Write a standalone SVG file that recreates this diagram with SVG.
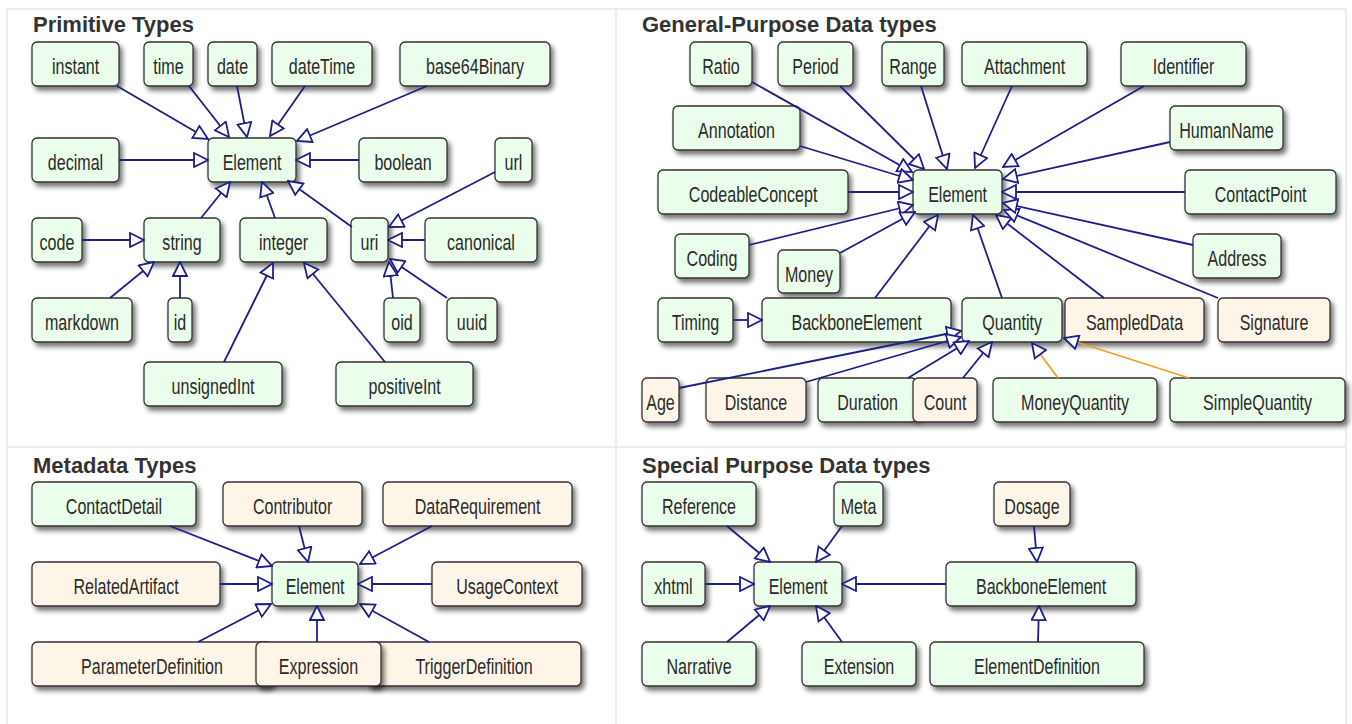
<svg xmlns="http://www.w3.org/2000/svg" width="1352" height="724" viewBox="0 0 1352 724">
<style>
.panel{fill:#fff;stroke:#ececec;stroke-width:2}
.title{font-family:"Liberation Sans",Arial,sans-serif;font-weight:bold;font-size:22px;fill:#333}
.g rect{fill:#ebfdeb;stroke:#333;stroke-width:1.3;filter:url(#sh)}
.o rect{fill:#fdf6e8;stroke:#333;stroke-width:1.3;filter:url(#sh)}
text.t{font-family:"Liberation Sans",Arial,sans-serif;font-size:22px;fill:#2b2b2b;text-anchor:middle;transform-box:fill-box;transform-origin:center;transform:scaleX(0.73)}
.c path{fill:none;stroke:#1e1e8a;stroke-width:1.8;marker-end:url(#tri)}
.c path.or{stroke:#f0a020}
</style>
<defs>
<filter id="sh" x="-20%" y="-30%" width="150%" height="180%">
<feDropShadow dx="3" dy="4" stdDeviation="2.5" flood-color="#000" flood-opacity="0.55"/>
</filter>
<marker id="tri" markerUnits="userSpaceOnUse" markerWidth="16" markerHeight="16" refX="14" refY="7" orient="auto" viewBox="-1 -1 16 16">
<path d="M0,0 L14,7 L0,14 Z" fill="#fff" stroke="#1e1e8a" stroke-width="1.8"/>
</marker>
</defs>
<rect x="0" y="0" width="1352" height="724" fill="#fff"/>
<rect class="panel" x="7" y="9" width="609" height="438"/>
<rect class="panel" x="616" y="9" width="730" height="438"/>
<rect class="panel" x="7" y="447" width="609" height="280"/>
<rect class="panel" x="616" y="447" width="730" height="280"/>
<text class="title" x="33" y="32">Primitive Types</text>
<text class="title" x="642" y="32">General-Purpose Data types</text>
<text class="title" x="33" y="473">Metadata Types</text>
<text class="title" x="642" y="473">Special Purpose Data types</text>

<!-- Primitive Types -->
<g id="p-instant" class="g"><rect x="32" y="42" width="87" height="44" rx="5"/><text class="t" x="75.5" y="74">instant</text></g>
<g id="p-time" class="g"><rect x="144" y="42" width="49" height="44" rx="5"/><text class="t" x="168.5" y="74">time</text></g>
<g id="p-date" class="g"><rect x="208" y="42" width="49" height="44" rx="5"/><text class="t" x="232.5" y="74">date</text></g>
<g id="p-dateTime" class="g"><rect x="272" y="42" width="100" height="44" rx="5"/><text class="t" x="322" y="74">dateTime</text></g>
<g id="p-base64Binary" class="g"><rect x="400" y="42" width="150" height="44" rx="5"/><text class="t" x="475" y="74">base64Binary</text></g>
<g id="p-decimal" class="g"><rect x="32" y="138" width="87" height="44" rx="5"/><text class="t" x="75.5" y="170">decimal</text></g>
<g id="p-Element" class="g"><rect x="208" y="138" width="88" height="44" rx="5"/><text class="t" x="252" y="170">Element</text></g>
<g id="p-boolean" class="g"><rect x="359" y="138" width="88" height="44" rx="5"/><text class="t" x="403" y="170">boolean</text></g>
<g id="p-url" class="g"><rect x="495" y="138" width="37" height="44" rx="5"/><text class="t" x="513.5" y="170">url</text></g>
<g id="p-code" class="g"><rect x="32" y="218" width="50" height="44" rx="5"/><text class="t" x="57" y="250">code</text></g>
<g id="p-string" class="g"><rect x="144" y="218" width="76" height="44" rx="5"/><text class="t" x="182" y="250">string</text></g>
<g id="p-integer" class="g"><rect x="240" y="218" width="87" height="44" rx="5"/><text class="t" x="283.5" y="250">integer</text></g>
<g id="p-uri" class="g"><rect x="351" y="218" width="37" height="44" rx="5"/><text class="t" x="369.5" y="250">uri</text></g>
<g id="p-canonical" class="g"><rect x="425" y="218" width="112" height="44" rx="5"/><text class="t" x="481" y="250">canonical</text></g>
<g id="p-markdown" class="g"><rect x="32" y="298" width="100" height="44" rx="5"/><text class="t" x="82" y="330">markdown</text></g>
<g id="p-id" class="g"><rect x="168" y="298" width="24" height="44" rx="5"/><text class="t" x="180" y="330">id</text></g>
<g id="p-oid" class="g"><rect x="384" y="298" width="36" height="44" rx="5"/><text class="t" x="402" y="330">oid</text></g>
<g id="p-uuid" class="g"><rect x="447" y="298" width="50" height="44" rx="5"/><text class="t" x="472" y="330">uuid</text></g>
<g id="p-unsignedInt" class="g"><rect x="144" y="362" width="138" height="44" rx="5"/><text class="t" x="213" y="394">unsignedInt</text></g>
<g id="p-positiveInt" class="g"><rect x="336" y="362" width="137" height="44" rx="5"/><text class="t" x="404.5" y="394">positiveInt</text></g>

<!-- General-Purpose Data types -->
<g id="g-Ratio" class="g"><rect x="690" y="42" width="62" height="44" rx="5"/><text class="t" x="721" y="74">Ratio</text></g>
<g id="g-Period" class="g"><rect x="778" y="42" width="75" height="44" rx="5"/><text class="t" x="815.5" y="74">Period</text></g>
<g id="g-Range" class="g"><rect x="882" y="42" width="62" height="44" rx="5"/><text class="t" x="913" y="74">Range</text></g>
<g id="g-Attachment" class="g"><rect x="962" y="42" width="125" height="44" rx="5"/><text class="t" x="1024.5" y="74">Attachment</text></g>
<g id="g-Identifier" class="g"><rect x="1121" y="42" width="125" height="44" rx="5"/><text class="t" x="1183.5" y="74">Identifier</text></g>
<g id="g-Annotation" class="g"><rect x="673" y="106" width="127" height="44" rx="5"/><text class="t" x="736.5" y="138">Annotation</text></g>
<g id="g-HumanName" class="g"><rect x="1170" y="106" width="113" height="44" rx="5"/><text class="t" x="1226.5" y="138">HumanName</text></g>
<g id="g-CodeableConcept" class="g"><rect x="658" y="170" width="190" height="44" rx="5"/><text class="t" x="753" y="202">CodeableConcept</text></g>
<g id="g-Element" class="g"><rect x="913" y="170" width="89" height="44" rx="5"/><text class="t" x="957.5" y="202">Element</text></g>
<g id="g-ContactPoint" class="g"><rect x="1185" y="170" width="151" height="44" rx="5"/><text class="t" x="1260.5" y="202">ContactPoint</text></g>
<g id="g-Coding" class="g"><rect x="675" y="234" width="74" height="44" rx="5"/><text class="t" x="712" y="266">Coding</text></g>
<g id="g-Money" class="g"><rect x="778" y="250" width="62" height="43" rx="5"/><text class="t" x="809" y="282">Money</text></g>
<g id="g-Address" class="g"><rect x="1193" y="234" width="88" height="44" rx="5"/><text class="t" x="1237" y="266">Address</text></g>
<g id="g-Timing" class="g"><rect x="658" y="298" width="75" height="44" rx="5"/><text class="t" x="695.5" y="330">Timing</text></g>
<g id="g-BackboneElement" class="g"><rect x="762" y="298" width="189" height="44" rx="5"/><text class="t" x="856.5" y="330">BackboneElement</text></g>
<g id="g-Quantity" class="g"><rect x="962" y="298" width="100" height="44" rx="5"/><text class="t" x="1012" y="330">Quantity</text></g>
<g id="g-SampledData" class="o"><rect x="1065" y="298" width="139" height="44" rx="5"/><text class="t" x="1134.5" y="330">SampledData</text></g>
<g id="g-Signature" class="o"><rect x="1218" y="298" width="112" height="44" rx="5"/><text class="t" x="1274" y="330">Signature</text></g>
<g id="g-Age" class="o"><rect x="642" y="378" width="37" height="44" rx="5"/><text class="t" x="660.5" y="410">Age</text></g>
<g id="g-Distance" class="o"><rect x="706" y="378" width="100" height="44" rx="5"/><text class="t" x="756" y="410">Distance</text></g>
<g id="g-Duration" class="g"><rect x="818" y="378" width="99" height="44" rx="5"/><text class="t" x="867.5" y="410">Duration</text></g>
<g id="g-Count" class="o"><rect x="913" y="378" width="64" height="44" rx="5"/><text class="t" x="945" y="410">Count</text></g>
<g id="g-MoneyQuantity" class="g"><rect x="993" y="378" width="164" height="44" rx="5"/><text class="t" x="1075" y="410">MoneyQuantity</text></g>
<g id="g-SimpleQuantity" class="g"><rect x="1170" y="378" width="175" height="44" rx="5"/><text class="t" x="1257.5" y="410">SimpleQuantity</text></g>

<!-- Metadata Types -->
<g id="m-ContactDetail" class="g"><rect x="32" y="482" width="164" height="44" rx="5"/><text class="t" x="114" y="514">ContactDetail</text></g>
<g id="m-Contributor" class="o"><rect x="223" y="482" width="139" height="44" rx="5"/><text class="t" x="292.5" y="514">Contributor</text></g>
<g id="m-DataRequirement" class="o"><rect x="383" y="482" width="189" height="44" rx="5"/><text class="t" x="477.5" y="514">DataRequirement</text></g>
<g id="m-RelatedArtifact" class="o"><rect x="32" y="562" width="188" height="44" rx="5"/><text class="t" x="126" y="594">RelatedArtifact</text></g>
<g id="m-Element" class="g"><rect x="272" y="562" width="86" height="44" rx="5"/><text class="t" x="315" y="594">Element</text></g>
<g id="m-UsageContext" class="o"><rect x="432" y="562" width="150" height="44" rx="5"/><text class="t" x="507" y="594">UsageContext</text></g>
<g id="m-ParameterDefinition" class="o"><rect x="32" y="642" width="240" height="44" rx="5"/><text class="t" x="152" y="674">ParameterDefinition</text></g>
<g id="m-TriggerDefinition" class="o"><rect x="367" y="642" width="214" height="44" rx="5"/><text class="t" x="474" y="674">TriggerDefinition</text></g>
<g id="m-Expression" class="o"><rect x="256" y="642" width="125" height="44" rx="5"/><text class="t" x="318.5" y="674">Expression</text></g>

<!-- Special Purpose Data types -->
<g id="s-Reference" class="g"><rect x="642" y="482" width="114" height="44" rx="5"/><text class="t" x="699" y="514">Reference</text></g>
<g id="s-Meta" class="g"><rect x="834" y="482" width="49" height="44" rx="5"/><text class="t" x="858.5" y="514">Meta</text></g>
<g id="s-Dosage" class="o"><rect x="994" y="482" width="76" height="44" rx="5"/><text class="t" x="1032" y="514">Dosage</text></g>
<g id="s-xhtml" class="g"><rect x="642" y="562" width="63" height="44" rx="5"/><text class="t" x="673.5" y="594">xhtml</text></g>
<g id="s-Element" class="g"><rect x="754" y="562" width="88" height="44" rx="5"/><text class="t" x="798" y="594">Element</text></g>
<g id="s-BackboneElement" class="g"><rect x="946" y="562" width="190" height="44" rx="5"/><text class="t" x="1041" y="594">BackboneElement</text></g>
<g id="s-Narrative" class="g"><rect x="642" y="642" width="114" height="44" rx="5"/><text class="t" x="699" y="674">Narrative</text></g>
<g id="s-Extension" class="g"><rect x="802" y="642" width="114" height="44" rx="5"/><text class="t" x="859" y="674">Extension</text></g>
<g id="s-ElementDefinition" class="g"><rect x="930" y="642" width="214" height="44" rx="5"/><text class="t" x="1037" y="674">ElementDefinition</text></g>

<g id="connectors" class="c">
<!-- primitive -->
<path d="M117,86 L208,139"/>
<path d="M189,86 L229,137"/>
<path d="M237,86 L247,137"/>
<path d="M305,86 L270,136"/>
<path d="M427,86 L297,141"/>
<path d="M119,160 L208,160"/>
<path d="M359,160 L296,160"/>
<path d="M201,218 L230,182"/>
<path d="M275,218 L262,182"/>
<path d="M352,227 L288,181"/>
<path d="M495,172 L389,227"/>
<path d="M425,240 L388,240"/>
<path d="M82,240 L144,240"/>
<path d="M110,298 L154,262"/>
<path d="M180,298 L180,262"/>
<path d="M393,298 L389,262"/>
<path d="M447,298 L390,259"/>
<path d="M224,362 L273,263"/>
<path d="M385,362 L304,263"/>
<!-- general -->
<path d="M752,82 L912,172"/>
<path d="M840,86 L924,169"/>
<path d="M921,86 L947,169"/>
<path d="M1012,86 L975,168"/>
<path d="M1144,86 L1003,167"/>
<path d="M800,146 L913,180"/>
<path d="M1170,142 L1003,179"/>
<path d="M848,192 L913,192"/>
<path d="M1185,192 L1002,192"/>
<path d="M749,245 L913,205"/>
<path d="M840,253 L915,212"/>
<path d="M875,298 L938,215"/>
<path d="M1002,298 L973,215"/>
<path d="M1104,298 L996,215"/>
<path d="M1218,298 L1004,210"/>
<path d="M1193,245 L1003,203"/>
<path d="M733,320 L762,320"/>
<path d="M679,388 L961,331"/>
<path d="M806,382 L961,337"/>
<path d="M908,378 L969,341"/>
<path d="M963,378 L992,342"/>
<path class="or" d="M1058,378 L1032,343"/>
<path class="or" d="M1189,378 L1064,338"/>
<!-- metadata -->
<path d="M170,526 L272,566"/>
<path d="M299,526 L308,562"/>
<path d="M432,526 L360,564"/>
<path d="M220,584 L272,584"/>
<path d="M432,584 L358,584"/>
<path d="M198,642 L271,604"/>
<path d="M317,642 L317,606"/>
<path d="M429,642 L360,604"/>
<!-- special -->
<path d="M727,526 L770,562"/>
<path d="M842,526 L816,562"/>
<path d="M1034,526 L1037,562"/>
<path d="M705,584 L754,584"/>
<path d="M946,584 L842,584"/>
<path d="M727,642 L770,606"/>
<path d="M842,642 L816,606"/>
<path d="M1038,642 L1039,606"/>
</g>
</svg>
